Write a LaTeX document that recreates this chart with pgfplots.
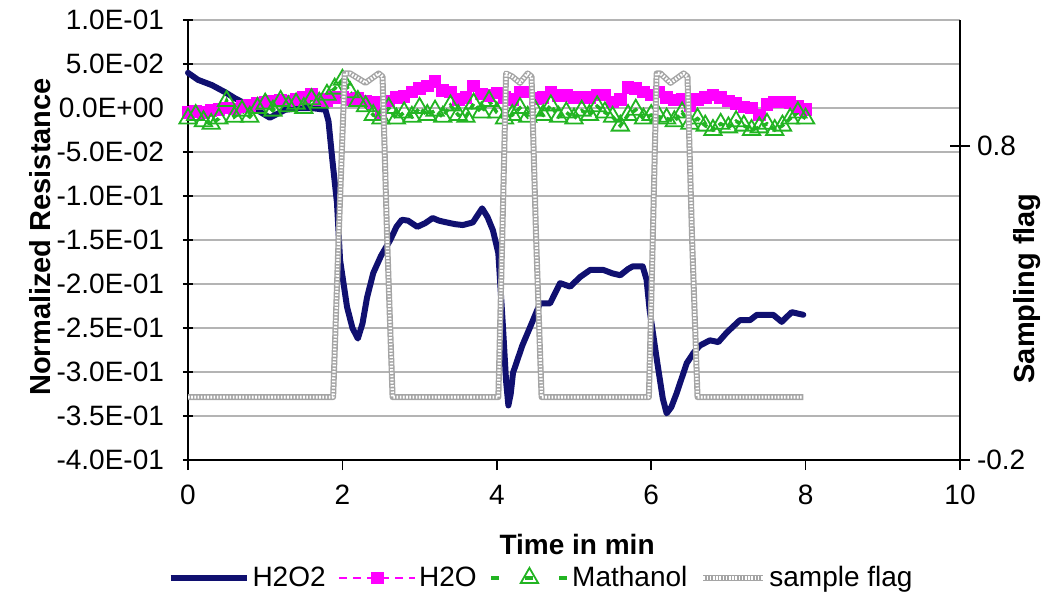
\documentclass[border=0pt]{standalone}
\usepackage{pgfplots}
\pgfplotsset{compat=1.18}
\usepackage{fontspec}
\setmainfont{Liberation Sans}
\definecolor{navyc}{RGB}{16,16,112}
\definecolor{magc}{RGB}{255,0,255}
\definecolor{grnc}{RGB}{34,180,34}
\definecolor{gridc}{RGB}{180,180,180}
\definecolor{flagc}{RGB}{165,165,165}
\begin{document}
\begin{tikzpicture}
\path[use as bounding box] (-94bp,-66bp) rectangle (426.5bp,230bp);
\begin{axis}[
  at={(0,0)}, anchor=south west,
  scale only axis, width=386bp, height=220bp,
  xmin=0, xmax=10, ymin=-0.4, ymax=0.1,
  axis x line=bottom, axis y line=left,
  axis line style={-, black, line width=0.8bp},
  xtick={0,2,4,6,8,10}, xticklabels={0,2,4,6,8,10},
  ytick={-0.4,-0.35,-0.3,-0.25,-0.2,-0.15,-0.1,-0.05,0,0.05,0.1},
  yticklabels={-4.0E-01,-3.5E-01,-3.0E-01,-2.5E-01,-2.0E-01,-1.5E-01,-1.0E-01,-5.0E-02,0.0E+00,5.0E-02,1.0E-01},
  xtick align=outside, ytick align=center,
  major tick length=5bp,
  tick style={black, line width=0.8bp},
  ymajorgrids, grid style={gridc, line width=0.9bp},
  tick label style={font=\fontsize{14bp}{16bp}\selectfont},
  yticklabel style={xshift=-6bp},
  xticklabel style={yshift=-4bp},
  xlabel={Time in min},
  xlabel style={font=\fontsize{14bp}{16bp}\selectfont\bfseries, at={(axis description cs:0.504,-0.193)}, anchor=center},
  ylabel={Normalized Resistance},
  ylabel style={font=\fontsize{14.5bp}{16bp}\selectfont\bfseries, at={(axis description cs:-0.192,0.507)}, anchor=center, rotate=0},
  clip=false,
]
\addplot[magc, line width=0.7bp, dashed, mark=square*, mark size=2.8bp, mark options={solid}] coordinates {
(0.0,-0.005)(0.1,-0.004)(0.2,-0.005)(0.3,-0.003)(0.4,-0.002)(0.5,0.000)(0.6,-0.001)(0.7,0.002)(0.8,0.003)(0.9,0.005)
(1.0,0.006)(1.1,0.008)(1.2,0.009)(1.3,0.008)(1.4,0.010)(1.5,0.012)(1.6,0.016)(1.7,0.010)(1.8,0.008)(1.9,0.012)
(2.0,0.012)(2.1,0.010)(2.2,0.011)(2.3,0.008)(2.4,0.006)(2.5,-0.008)(2.6,0.008)(2.7,0.012)(2.8,0.013)(2.9,0.018)
(3.0,0.022)(3.1,0.025)(3.2,0.030)(3.3,0.020)(3.4,0.018)(3.5,0.010)(3.6,0.012)(3.7,0.025)(3.8,0.016)(3.9,0.014)
(4.0,0.017)(4.1,0.012)(4.2,0.010)(4.3,0.018)(4.4,0.018)(4.5,0.011)(4.6,0.012)(4.7,0.018)(4.8,0.014)(4.9,0.014)
(5.0,0.012)(5.1,0.012)(5.2,0.012)(5.3,0.015)(5.4,0.015)(5.5,0.007)(5.6,0.010)(5.7,0.023)(5.8,0.022)(5.9,0.018)
(6.0,0.015)(6.1,0.018)(6.2,0.012)(6.3,0.009)(6.4,0.010)(6.5,0.003)(6.6,0.010)(6.7,0.012)(6.8,0.015)(6.9,0.012)
(7.0,0.008)(7.1,0.005)(7.2,0.001)(7.3,0.000)(7.4,-0.008)(7.5,0.004)(7.6,0.007)(7.7,0.007)(7.8,0.006)(7.9,0.002)(8.0,-0.002)
};
\addplot[grnc, line width=1.8bp, dash pattern=on 3bp off 2bp, mark=triangle, mark size=5bp, mark options={solid, line width=0.9bp}] coordinates {
(0.0,-0.012)(0.1,-0.008)(0.2,-0.015)(0.3,-0.018)(0.4,-0.012)(0.5,0.008)(0.6,-0.010)(0.7,-0.003)(0.8,-0.010)(0.9,0.000)
(1.0,0.005)(1.1,-0.003)(1.2,0.008)(1.3,0.002)(1.4,0.005)(1.5,0.000)(1.6,0.010)(1.7,0.006)(1.8,0.015)(1.9,0.022)
(2.0,0.032)(2.1,0.018)(2.2,0.008)(2.3,0.002)(2.4,-0.008)(2.5,-0.012)(2.6,0.000)(2.7,-0.012)(2.8,-0.005)(2.9,-0.010)
(3.0,0.000)(3.1,-0.008)(3.2,-0.003)(3.3,-0.010)(3.4,0.003)(3.5,-0.008)(3.6,-0.010)(3.7,0.005)(3.8,-0.005)(3.9,0.008)
(4.0,-0.005)(4.1,-0.012)(4.2,-0.008)(4.3,0.000)(4.4,-0.010)(4.5,-0.003)(4.6,-0.008)(4.7,0.003)(4.8,-0.010)(4.9,-0.005)
(5.0,-0.012)(5.1,-0.003)(5.2,-0.008)(5.3,0.002)(5.4,-0.005)(5.5,-0.010)(5.6,-0.020)(5.7,-0.008)(5.8,-0.002)(5.9,-0.012)
(6.0,-0.008)(6.1,-0.010)(6.2,-0.012)(6.3,-0.015)(6.4,-0.005)(6.5,-0.018)(6.6,-0.012)(6.7,-0.020)(6.8,-0.025)(6.9,-0.018)
(7.0,-0.022)(7.1,-0.015)(7.2,-0.020)(7.3,-0.025)(7.4,-0.022)(7.5,-0.018)(7.6,-0.025)(7.7,-0.020)(7.8,-0.012)(7.9,-0.005)(8.0,-0.012)
};
\addplot[navyc, line width=3bp, line join=round, line cap=round] coordinates {
(0,0.040)(0.13,0.032)(0.31,0.026)(0.48,0.018)(0.61,0.011)(0.83,0.001)(1.06,-0.011)(1.26,-0.002)(1.45,0.000)(1.6,0.000)(1.78,-0.002)(1.82,-0.015)
(1.87,-0.059)(1.93,-0.108)(1.97,-0.173)(2.06,-0.226)(2.13,-0.250)(2.20,-0.262)(2.26,-0.245)(2.32,-0.215)(2.40,-0.1875)(2.50,-0.168)
(2.62,-0.150)(2.70,-0.135)(2.77,-0.127)(2.85,-0.128)(2.97,-0.135)(3.07,-0.131)(3.17,-0.125)(3.25,-0.128)(3.35,-0.130)(3.46,-0.132)
(3.56,-0.133)(3.69,-0.130)(3.75,-0.122)(3.81,-0.114)(3.88,-0.124)(3.95,-0.139)(4.02,-0.165)(4.08,-0.249)(4.12,-0.310)(4.15,-0.338)
(4.18,-0.325)(4.21,-0.301)(4.33,-0.270)(4.47,-0.241)(4.56,-0.222)(4.69,-0.222)(4.82,-0.199)(4.95,-0.203)(5.08,-0.192)(5.21,-0.184)
(5.38,-0.184)(5.50,-0.188)(5.60,-0.190)(5.70,-0.183)(5.76,-0.180)(5.89,-0.180)(5.94,-0.195)(5.98,-0.230)(6.08,-0.290)(6.15,-0.330)
(6.20,-0.347)(6.26,-0.340)(6.33,-0.324)(6.46,-0.290)(6.55,-0.278)(6.63,-0.270)(6.76,-0.264)(6.87,-0.266)(6.98,-0.255)(7.15,-0.241)
(7.28,-0.241)(7.37,-0.235)(7.58,-0.235)(7.69,-0.243)(7.82,-0.232)(7.97,-0.235)
};
\end{axis}
\begin{axis}[
  at={(0,0)}, anchor=south west,
  scale only axis, width=386bp, height=220bp,
  xmin=0, xmax=10, ymin=-0.2, ymax=1.2,
  axis x line=none, axis y line=right,
  axis line style={-, black, line width=0.8bp},
  ytick={-0.2,0.8}, yticklabels={-0.2,0.8},
  ytick align=center, major tick length=10bp,
  tick style={black, line width=0.8bp},
  tick label style={font=\fontsize{14bp}{16bp}\selectfont},
  yticklabel style={xshift=0bp},
  ylabel={Sampling flag},
  ylabel style={font=\fontsize{14.5bp}{16bp}\selectfont\bfseries, at={(axis description cs:1.087,0.39)}, anchor=center},
  legend columns=4,
  legend style={draw=none, fill=none, at={(0.458,-0.268)}, anchor=center,
    font=\fontsize{14bp}{16bp}\selectfont,
    nodes={inner sep=1.5bp},
    /tikz/every odd column/.append style={column sep=0bp},
    /tikz/every even column/.append style={column sep=5bp}},
  legend image code/.code={\draw[mark repeat=2,mark phase=2] plot coordinates {(0bp,0bp) (19bp,0bp) (38bp,0bp)};},
  clip=false,
]
\addlegendimage{navyc, line width=3bp}
\addlegendentry{H2O2}
\addlegendimage{magc, line width=0.7bp, dash pattern=on 4bp off 3bp, mark=square*, mark size=2.8bp, mark options={solid}}
\addlegendentry{H2O}
\addlegendimage{grnc, line width=1.8bp, dash pattern=on 4bp off 13bp, mark=triangle, mark size=5bp, mark options={solid, line width=0.9bp}}
\addlegendentry{Mathanol}
\addplot[flagc, line width=3bp, line join=round, postaction={draw=white, line width=1.6bp, dash pattern=on 0.8bp off 0.8bp},
  legend image code/.code={\draw (0bp,0bp) -- (30bp,0bp);}] coordinates {
(0,0)(1.88,0)(1.95,0.5)(2.03,1.03)(2.1,1.03)(2.3,1.0)(2.47,1.03)(2.52,1.02)(2.58,0.5)(2.65,0)
(4.02,0)(4.07,0.5)(4.12,1.03)(4.2,1.02)(4.3,1.0)(4.4,1.03)(4.45,1.02)(4.51,0.5)(4.58,0)
(5.97,0)(6.02,0.5)(6.07,1.03)(6.12,1.03)(6.25,1.0)(6.42,1.03)(6.47,1.02)(6.53,0.5)(6.6,0)(7.97,0)
};
\addlegendentry{sample flag}
\end{axis}
\end{tikzpicture}
\end{document}
